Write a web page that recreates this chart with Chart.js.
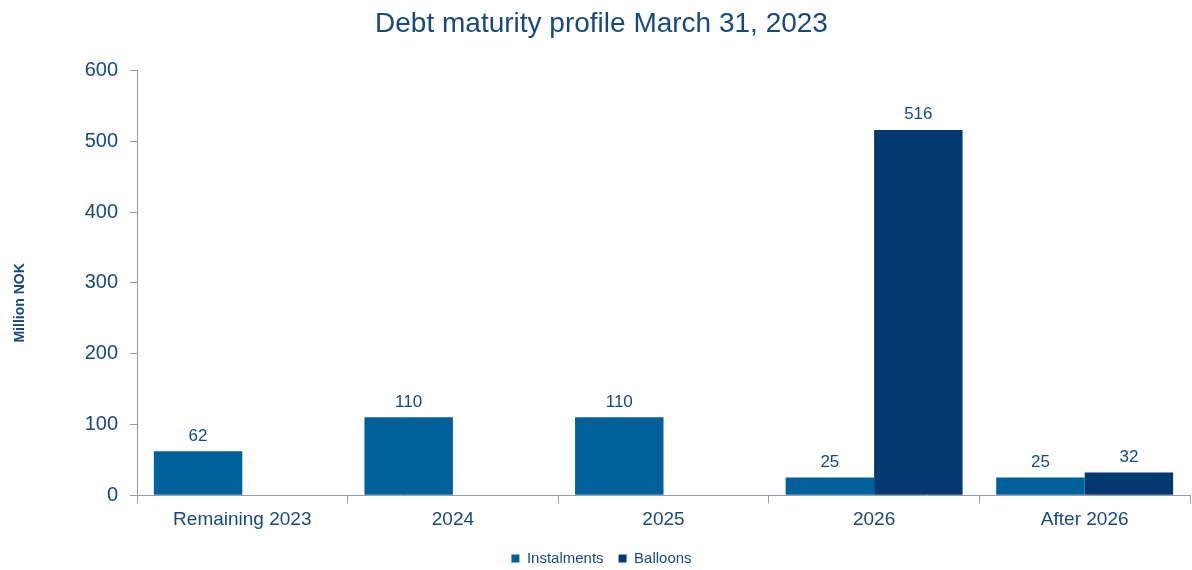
<!DOCTYPE html>
<html>
<head>
<meta charset="utf-8">
<script src="https://cdn.jsdelivr.net/npm/chart.js@4.4.0/dist/chart.umd.min.js"></script>
<style>
  body { margin: 0; background: #fff; }
  #wrap { width: 1192px; height: 570px; }
</style>
</head>
<body>
<div id="wrap"><canvas id="chart" width="1192" height="570"></canvas></div>
<script>
const categories = ['Remaining 2023', '2024', '2025', '2026', 'After 2026'];
const instalments = [62, 110, 110, 25, 25];
const balloons = [null, null, null, 516, 32];
const yTicks = [0, 100, 200, 300, 400, 500, 600];
const yTitle = 'Million NOK';

const textColor = '#17497f';
const axisColor = '#9a9aa8';
const fontFamily = '"Liberation Sans", Arial, sans-serif';

// draws the value above each bar, and the rotated y axis title
const valueLabels = {
    id: 'valueLabels',
    afterDatasetsDraw(chart) {
        const ctx = chart.ctx;
        ctx.save();
        ctx.font = '17px ' + fontFamily;
        ctx.fillStyle = textColor;
        ctx.textAlign = 'center';
        ctx.textBaseline = 'bottom';
        chart.data.datasets.forEach((ds, i) => {
            chart.getDatasetMeta(i).data.forEach((bar, j) => {
                if (ds.data[j] == null) return;
                ctx.fillText(ds.data[j], bar.x, bar.y - 7);
            });
        });
        const area = chart.chartArea;
        ctx.translate(20, (area.top + area.bottom) / 2 + 20);
        ctx.rotate(-Math.PI / 2);
        ctx.font = 'bold 14px ' + fontFamily;
        ctx.textBaseline = 'middle';
        ctx.fillText(yTitle, 0, 0);
        ctx.restore();
    }
};

new Chart(document.getElementById('chart'), {
    type: 'bar',
    data: {
        labels: categories,
        datasets: [
            { label: 'Instalments', data: instalments, backgroundColor: '#00609c' },
            { label: 'Balloons', data: balloons, backgroundColor: '#003a70' }
        ]
    },
    options: {
        responsive: false,
        animation: false,
        layout: { padding: { left: 13, right: 2, top: 0, bottom: -6 } },
        datasets: { bar: { categoryPercentage: 0.84, barPercentage: 1.0 } },
        plugins: {
            title: {
                display: true,
                text: 'Debt maturity profile March 31, 2023',
                color: textColor,
                font: { family: fontFamily, size: 28, weight: 'normal' },
                padding: { top: 7, bottom: 30 }
            },
            legend: {
                position: 'bottom',
                labels: {
                    color: textColor,
                    font: { family: fontFamily, size: 15 },
                    usePointStyle: true,
                    pointStyle: 'rect',
                    boxWidth: 8,
                    boxHeight: 8,
                    padding: 15
                }
            },
            tooltip: { enabled: false }
        },
        scales: {
            x: {
                grid: { display: true, drawOnChartArea: false, offset: true, color: axisColor, tickLength: 8 },
                border: { color: axisColor },
                ticks: {
                    color: textColor,
                    font: { family: fontFamily, size: 19 },
                    padding: 5
                }
            },
            y: {
                min: 0,
                max: 600,
                afterBuildTicks(scale) { scale.ticks = yTicks.map(v => ({ value: v })); },
                afterFit(scale) { scale.width = 124; },
                grid: { display: true, drawOnChartArea: false, color: axisColor, tickLength: 7 },
                border: { color: axisColor },
                ticks: {
                    color: textColor,
                    font: { family: fontFamily, size: 20 },
                    padding: 12
                }
            }
        }
    },
    plugins: [valueLabels]
});
</script>
</body>
</html>
